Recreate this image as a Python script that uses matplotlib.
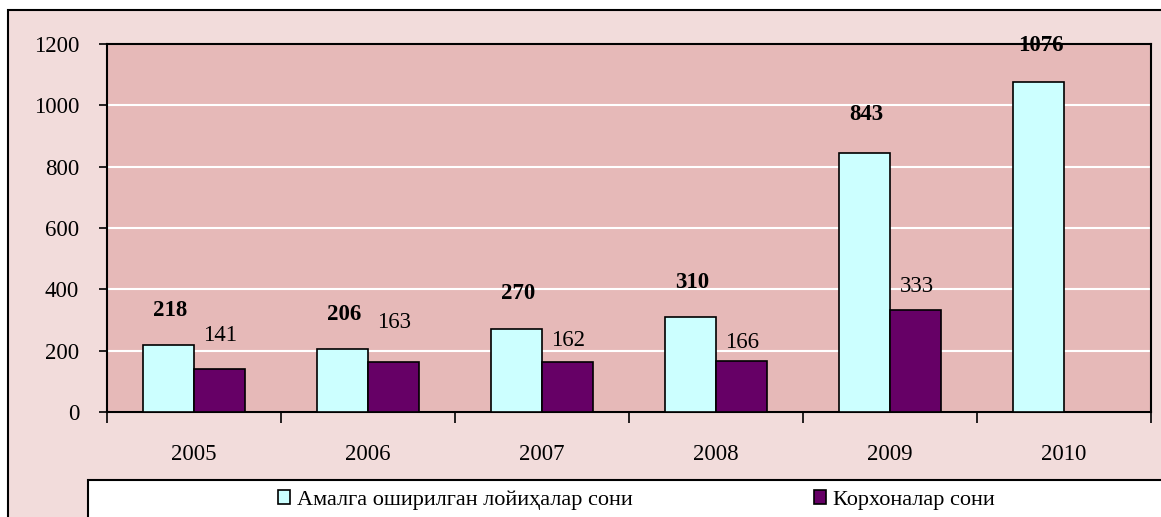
import numpy as np
import matplotlib
matplotlib.use("Agg")
import matplotlib.pyplot as plt
import matplotlib.patches as patches

plt.rcParams['font.family'] = ['Liberation Serif', 'DejaVu Serif']

years = ['2005', '2006', '2007', '2008', '2009', '2010']
projects = [218, 206, 270, 310, 843, 1076]
enterprises = [141, 163, 162, 166, 333, None]
series_names = ['Амалга оширилган лойиҳалар сони', 'Корхоналар сони']

# how far each value label sits above its bar, in pixels
proj_lift = [35, 34, 36, 34, 39, 37]
ent_lift = [33, 40, 22, 19, 23]

cyan = '#CCFFFF'
purple = '#660066'

fig = plt.figure(figsize=(11.61, 5.17), dpi=100)
fig.patch.set_facecolor('white')
px = 72 / fig.dpi

# chart area background with its border
fig.patches.append(patches.Rectangle((8 / 1161, -0.1), 1.2, 1.1 - 10 / 517,
                                     transform=fig.transFigure, facecolor='#F2DCDB',
                                     edgecolor='black', linewidth=1.5, zorder=-2))

ax = fig.add_axes([107 / 1161, 1 - 412 / 517, (1151 - 107) / 1161, (412 - 44) / 517])
ax.set_zorder(2)
ax.set_facecolor('#E6B9B8')

x = np.arange(len(years))
w = 0.293
ax.bar(x - w / 2, projects, w, color=cyan, edgecolor='black', linewidth=1.2, zorder=3)
ent_x = [xi + w / 2 for xi, v in zip(x, enterprises) if v is not None]
ent_v = [v for v in enterprises if v is not None]
ax.bar(ent_x, ent_v, w, color=purple, edgecolor='black', linewidth=1.2, zorder=3)

for xi, v, d in zip(x, projects, proj_lift):
    ax.annotate(str(v), (xi - w / 2, v), xytext=(2 * px, d * px), textcoords='offset points',
                ha='center', va='center', fontsize=16.5, fontweight='bold', zorder=5,
                annotation_clip=False)
for xi, v, d in zip(ent_x, ent_v, ent_lift):
    ax.annotate(str(v), (xi, v), xytext=(1 * px, d * px), textcoords='offset points',
                ha='center', va='center', fontsize=16.5, zorder=5)

ax.set_xlim(-0.5, len(years) - 0.5)
ax.set_ylim(0, 1200)
ax.set_yticks(range(0, 1201, 200))
ax.yaxis.grid(True, color='white', linewidth=1.5, zorder=1)
ax.set_axisbelow(True)

# tick marks between categories, labels centered under them
ax.set_xticks(np.arange(-0.5, len(years)), minor=False)
ax.set_xticklabels([])
ax.set_xticks(x, minor=True)
ax.set_xticklabels(years, minor=True)
ax.tick_params(axis='x', which='minor', length=0, pad=23, labelsize=16.5)
ax.tick_params(axis='x', which='major', length=8, width=1.2, direction='out')
ax.tick_params(axis='y', length=6, width=1.2, direction='out', labelsize=16.5, pad=14)

for side in ['left', 'bottom', 'top', 'right']:
    ax.spines[side].set_linewidth(1.5)

# legend box
fig.patches.append(patches.Rectangle((88 / 1161, -0.1), 1.0, 0.1 + 1 - 480 / 517,
                                     transform=fig.transFigure, facecolor='white',
                                     edgecolor='black', linewidth=1.5, zorder=-1))
handles = [patches.Patch(facecolor=cyan, edgecolor='black', linewidth=1.2),
           patches.Patch(facecolor=purple, edgecolor='black', linewidth=1.2)]
fig.legend(handles, series_names, loc='center left', bbox_to_anchor=(278 / 1161, 1 - 500 / 517),
           ncol=2, frameon=False, fontsize=16, handlelength=0.54, handleheight=0.6,
           handletextpad=0.32, columnspacing=8.15, borderpad=0, borderaxespad=0)

fig.savefig('out.png', dpi=100, facecolor=fig.get_facecolor())
